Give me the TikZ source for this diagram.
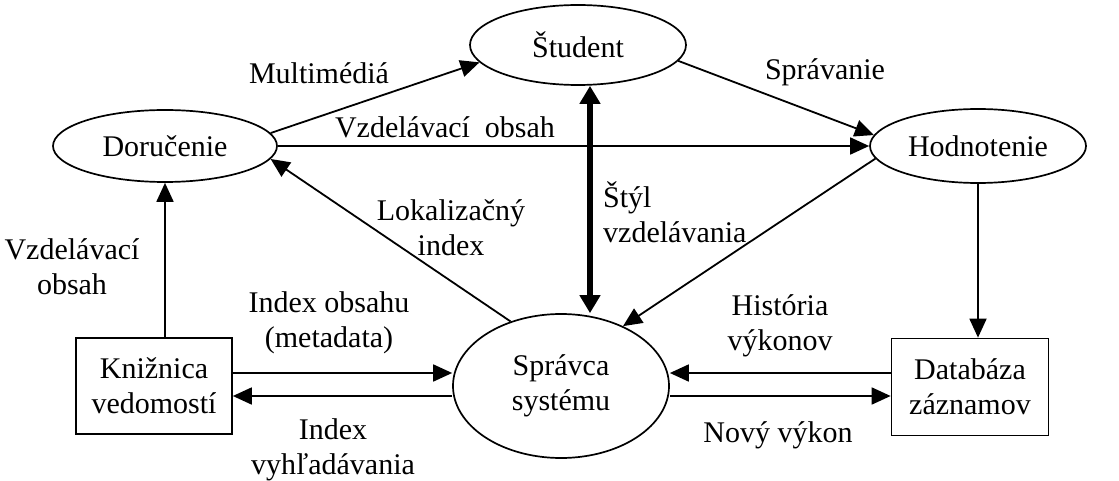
\documentclass[tikz,border=0pt]{standalone}
\usepackage{fontspec}
\setmainfont{Liberation Serif}
\usetikzlibrary{shapes.geometric,arrows.meta}
\begin{document}
\begin{tikzpicture}[x=1pt,y=-1pt,
  every node/.style={font=\fontsize{30pt}{35pt}\selectfont},
  ell/.style={draw,ellipse,line width=1.7pt,inner sep=0pt},
  boxn/.style={draw,rectangle,line width=1.7pt,inner sep=0pt,align=center},
  lab/.style={align=center,inner sep=0pt},
  arr/.style={line width=1.8pt,-{Triangle[length=19pt,width=17pt]}},
  bigarr/.style={line width=6pt,{Triangle[length=18pt,width=20pt]}-{Triangle[length=18pt,width=20pt]}}
]
\useasboundingbox (0,0) rectangle (1119,481);
\node[ell,minimum width=216pt,minimum height=80pt] (st) at (578,45) {Študent};
\node[ell,minimum width=224pt,minimum height=72pt] (d) at (165,146) {Doručenie};
\node[ell,minimum width=216pt,minimum height=74pt] (h) at (978,146) {Hodnotenie};
\node[ell,minimum width=216pt,minimum height=144pt,align=center] (s) at (561,386) {Správca\\systému};
\node[boxn,minimum width=156pt,minimum height=96pt] (k) at (154,386) {Knižnica\\vedomostí};
\node[boxn,minimum width=157pt,minimum height=97pt] (db) at (970,387) {Databáza\\záznamov};

\draw[arr] (d.7) -- (st.190);
\draw[arr] (st.-9) -- (h.174);
\draw[arr] (d.east) -- (h.west);
\draw[bigarr] ([xshift=12pt]st.south) -- ([xshift=29pt]s.north);
\draw[arr] (s.128) -- (d.-7);
\draw[arr] (h.187) -- (s.44);
\draw[arr] (h.south) -- (h.south |- db.north);
\draw[arr] (k.north -| d.south) -- (d.south);
\draw[arr] ([yshift=13pt]k.east) -- ([yshift=13pt]s.west);
\draw[arr] ([yshift=-10pt]s.west) -- ([yshift=-10pt]k.east);
\draw[arr] ([yshift=14pt]db.west) -- ([yshift=13pt]s.east);
\draw[arr] ([yshift=-10pt]s.east) -- ([yshift=-9pt]db.west);

\node[lab] (l1) at (319,73) {Multimédiá};
\node[lab] (l2) at (825,72) {Správanie};
\node[lab] (l3) at (445,127) {Vzdelávací\ \ obsah};
\node[lab] (l4) at (451,228) {Lokalizačný\\index};
\node[lab,align=left,anchor=west] (l5) at (603,212) {Štýl\\vzdelávania};
\node[lab] (l6) at (72,267) {Vzdelávací\\obsah};
\node[lab] (l7) at (329,323) {Index obsahu\\(metadata)};
\node[lab] (l8) at (333,450) {Index\\vyhľadávania};
\node[lab] (l9) at (780,326) {História\\výkonov};
\node[lab] (l10) at (778,435) {Nový výkon};
\end{tikzpicture}
\end{document}
